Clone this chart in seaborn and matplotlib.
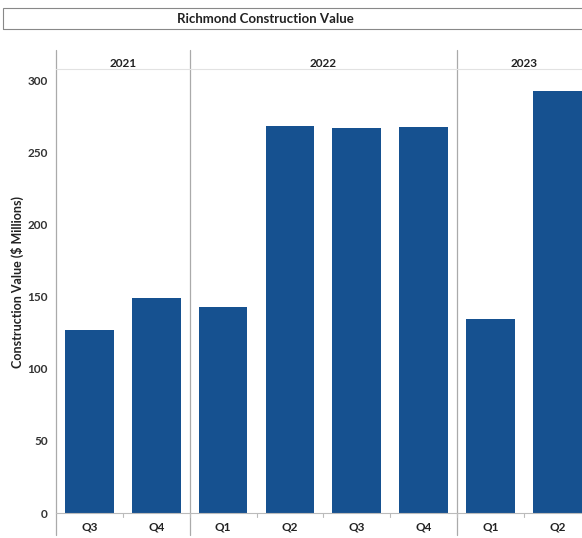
import numpy as np
import pandas as pd
import seaborn as sns
import matplotlib.pyplot as plt
from matplotlib.patches import Rectangle

# data
quarters = ["Q3", "Q4", "Q1", "Q2", "Q3", "Q4", "Q1", "Q2"]
years = ["2021", "2021", "2022", "2022", "2022", "2022", "2023", "2023"]
values = [127, 149, 143, 269, 267, 268, 135, 293]

df = pd.DataFrame({"slot": [f"{y} {q}" for y, q in zip(years, quarters)],
                   "value": values})

sns.set_style("white")
plt.rcParams["font.family"] = ["Lato", "DejaVu Sans"]

W, H = 582, 538
fig = plt.figure(figsize=(W / 100, H / 100), dpi=100)
# axes in pixel terms: left 56, right 582, top 50, bottom 513
ax = fig.add_axes([56 / W, (H - 513) / H, (582 - 56) / W, (513 - 50) / H])

bar_color = "#165190"
sns.barplot(data=df, x="slot", y="value", color=bar_color, width=0.73,
            saturation=1, linewidth=0, ax=ax)

ax.set_xlim(-0.5, 7.37)
ax.set_ylim(0, 321.5)
ax.set_yticks([0, 50, 100, 150, 200, 250, 300])
ax.set_xticks(range(len(quarters)))
ax.set_xticklabels(quarters, fontsize=8.5, fontweight="bold", color="#222222")
ax.tick_params(axis="y", labelsize=8.5, colors="#333333", length=0, pad=6)
ax.tick_params(axis="x", length=0, pad=6)
for lab in ax.get_yticklabels():
    lab.set_fontweight("bold")
ax.set_xlabel("")
ax.set_ylabel("Construction Value ($ Millions)", fontsize=9, fontweight="bold",
              color="#222222", labelpad=2)

for s in ["top", "right", "left"]:
    ax.spines[s].set_visible(False)
ax.spines["bottom"].set_color("#bbbbbb")
ax.spines["bottom"].set_linewidth(0.8)

# vertical separators (left edge + year boundaries), extending below the axis
for xv in [-0.5, 1.5, 5.5]:
    ax.axvline(xv, ymin=-0.048, ymax=1.0, color="#aaaaaa", lw=0.9, clip_on=False)

# small tick marks between bars
for xv in np.arange(0.5, 7, 1.0):
    ax.plot([xv, xv], [0, -3], color="#bbbbbb", lw=0.8, clip_on=False)

# faint line under the year header
ax.axhline(308, color="#e2e2e2", lw=0.8)

# year headers
year_spans = {"2021": (-0.5, 1.5), "2022": (1.5, 5.5), "2023": (5.5, 7.5)}
for yr, (a, b) in year_spans.items():
    ax.text((a + b) / 2, 312, yr, ha="center", va="center", fontsize=8.5,
            fontweight="bold", color="#222222")

# title box
fig.patches.append(Rectangle((3 / W, 1 - 29 / H), (600 - 3) / W, 21 / H,
                             transform=fig.transFigure, fill=False,
                             edgecolor="#888888", lw=0.8))
fig.text(265 / W, 1 - 19 / H, "Richmond Construction Value", ha="center",
         va="center", fontsize=9.5, fontweight="bold", color="#222222")

fig.savefig("out.png", dpi=100)
